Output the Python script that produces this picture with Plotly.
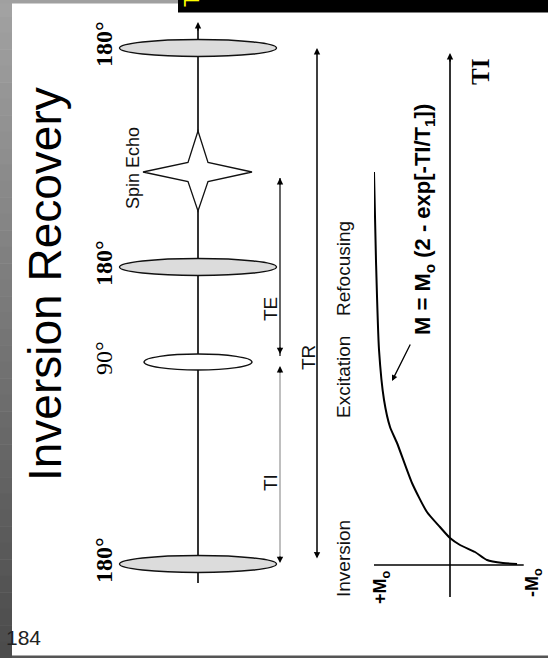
import plotly.graph_objects as go

# ---------------- data ----------------
# time axis (arbitrary units, t=0 at the inversion pulse, time runs upward in the picture)
pulse_times = [0, 202, 297, 516]            # 180° inversion, 90° excitation, 180° refocusing, next 180°
pulse_labels = ["<b>180°</b>", "90°", "<b>180°</b>", "<b>180°</b>"]
pulse_kinds = ["180", "90", "180", "180"]
echo_time = 392
TI_start, TI_end = 0, 202
TE_start, TE_end = 202, 392
TR_start, TR_end = 0, 516

# recovery curve: M (in units of Mo) versus time
curve_t = [0, 1, 4, 12, 19, 26, 37, 52, 81, 121, 137, 164, 214, 304, 392]
curve_m = [-0.882, -0.697, -0.487, -0.329, -0.132, 0.0, 0.132, 0.303, 0.5,
           0.697, 0.789, 0.868, 0.934, 0.974, 1.0]

event_labels = ["Inversion", "Excitation", "Refocusing"]
event_label_times = [5, 187, 295]
interval_labels = ["TI", "TE", "TR"]

# ---------------- layout constants ----------------
W, H = 548, 658
T0 = 564              # pixel row of t = 0
SEQ_X = 198           # pulse-sequence axis column
SANS = "Liberation Sans, Arial, sans-serif"
SERIF = "Liberation Serif, Times New Roman, serif"
AH = dict(arrowhead=2, arrowsize=0.85, arrowwidth=1.5, arrowcolor="black")

fig = go.Figure()

fig.add_trace(go.Scatter(
    x=curve_m, y=curve_t, xaxis="x2", yaxis="y2", mode="lines",
    line=dict(color="black", width=2, shape="spline", smoothing=0.6),
    hoverinfo="skip", showlegend=False))

shapes = []
ann = []

# ---- slide background decorations ----
N = 40
for i in range(N):
    g = int(0xa2 + (0x4c - 0xa2) * i / (N - 1))
    col = f"rgb({g},{g},{g})"
    shapes.append(dict(type="rect", xref="x", yref="y", x0=0, x1=12,
                       y0=i * H / N, y1=(i + 1) * H / N + 0.5,
                       fillcolor=col, line=dict(width=0), layer="below"))
shapes.append(dict(type="rect", xref="x", yref="y", x0=0, x1=178, y0=0, y1=3.5,
                   fillcolor="#a0a0a0", line=dict(width=0), layer="below"))
shapes.append(dict(type="rect", xref="x", yref="y", x0=178, x1=W, y0=0, y1=12.5,
                   fillcolor="black", line=dict(width=0), layer="below"))
shapes.append(dict(type="rect", xref="x", yref="y", x0=12, x1=W, y0=655.5, y1=H,
                   fillcolor="#555555", line=dict(width=0), layer="below"))
ann.append(dict(xref="x", yref="y", x=191, y=1, text="T", textangle=-90,
                showarrow=False, font=dict(family=SANS, size=22, color="#ffff00"),
                xanchor="center", yanchor="middle"))

# ---- pulse sequence axis ----
shapes.append(dict(type="line", xref="x", yref="y2", x0=SEQ_X, x1=SEQ_X, y0=-19, y1=538,
                   line=dict(color="black", width=1.6)))
ann.append(dict(xref="x", yref="y2", x=SEQ_X, y=542, axref="x", ayref="y2", ax=SEQ_X, ay=532,
                text="", showarrow=True, **AH))

# pulses
for t, lab, kind in zip(pulse_times, pulse_labels, pulse_kinds):
    hw = 78.5 if kind == "180" else 54
    hh = 8.5 if kind == "180" else 8
    fill = "#dcdcdc" if kind == "180" else "white"
    shapes.append(dict(type="circle", xref="x", yref="y2",
                       x0=SEQ_X - hw, x1=SEQ_X + hw, y0=t - hh, y1=t + hh,
                       fillcolor=fill, line=dict(color="#111111", width=1.4)))
    ann.append(dict(xref="x", yref="y2", x=104, y=t + 4, text=lab, textangle=-90,
                    showarrow=False, font=dict(family=SERIF, size=24, color="black"),
                    xanchor="center", yanchor="middle"))

# spin echo star
c = echo_time
star = (f"M {SEQ_X},{c+41} L {SEQ_X+10},{c+9.5} L {SEQ_X+54},{c} L {SEQ_X+10},{c-9.5} "
        f"L {SEQ_X},{c-39} L {SEQ_X-10},{c-9.5} L {SEQ_X-55},{c} L {SEQ_X-10},{c+9.5} Z")
shapes.append(dict(type="path", xref="x", yref="y2", path=star, fillcolor="white",
                   line=dict(color="#111111", width=1.3)))
ann.append(dict(xref="x", yref="y2", x=133, y=echo_time + 4, text="Spin Echo", textangle=-90,
                showarrow=False, font=dict(family=SANS, size=18, color="#111"),
                xanchor="center", yanchor="middle"))

# ---- interval arrows ----
TE_X, TR_X = 280, 317
shapes.append(dict(type="line", xref="x", yref="y2", x0=TE_X, x1=TE_X, y0=TE_start + 6, y1=TE_end - 6,
                   line=dict(color="#555555", width=1.8)))
shapes.append(dict(type="line", xref="x", yref="y2", x0=TE_X, x1=TE_X, y0=TI_start + 3, y1=TI_end - 6,
                   line=dict(color="#b8b8b8", width=1.8)))
for (hy, ty) in [(TE_end - 6, TE_end - 14), (TE_start + 8, TE_start + 16),
                 (TI_end - 4, TI_end - 12), (TI_start + 1, TI_start + 9)]:
    ann.append(dict(xref="x", yref="y2", x=TE_X, y=hy, axref="x", ayref="y2", ax=TE_X, ay=ty,
                    text="", showarrow=True, **AH))
ann.append(dict(xref="x", yref="y2", x=TR_X, y=TR_end, axref="x", ayref="y2", ax=TR_X, ay=TR_start + 4,
                text="", showarrow=True, startarrowhead=2, arrowside="end+start",
                startarrowsize=0.85, **AH))

ann.append(dict(xref="x", yref="y2", x=270, y=(TI_start + TI_end) / 2 - 20, text=interval_labels[0],
                textangle=-90, showarrow=False, font=dict(family=SANS, size=19, color="#111"),
                xanchor="center", yanchor="middle"))
ann.append(dict(xref="x", yref="y2", x=270, y=(TE_start + TE_end) / 2 - 42, text=interval_labels[1],
                textangle=-90, showarrow=False, font=dict(family=SANS, size=19, color="#111"),
                xanchor="center", yanchor="middle"))
ann.append(dict(xref="x", yref="y2", x=308, y=206, text=interval_labels[2],
                textangle=-90, showarrow=False, font=dict(family=SANS, size=19, color="#111"),
                xanchor="center", yanchor="middle"))

for lab, t in zip(event_labels, event_label_times):
    ann.append(dict(xref="x", yref="y2", x=343, y=t, text=lab, textangle=-90, showarrow=False,
                    font=dict(family=SANS, size=19, color="#111"),
                    xanchor="center", yanchor="middle"))

# ---- magnetisation plot axes ----
shapes.append(dict(type="line", xref="x2", yref="y2", x0=0, x1=0, y0=-33, y1=507,
                   line=dict(color="black", width=1.6)))
ann.append(dict(xref="x2", yref="y2", x=0, y=511, axref="x2", ayref="y2", ax=0, ay=501,
                text="", showarrow=True, **AH))
shapes.append(dict(type="line", xref="x2", yref="y2", x0=1.05, x1=-0.97, y0=-1, y1=-1,
                   line=dict(color="black", width=1.6)))
ann.append(dict(xref="x", yref="y", x=381, y=587, text="<b>+M<sub>o</sub></b>", textangle=-90,
                showarrow=False, font=dict(family=SANS, size=18, color="black"),
                xanchor="center", yanchor="middle"))
ann.append(dict(xref="x", yref="y", x=533, y=583, text="<b>-M<sub>o</sub></b>", textangle=-90,
                showarrow=False, font=dict(family=SANS, size=18, color="black"),
                xanchor="center", yanchor="middle"))
ann.append(dict(xref="x", yref="y", x=480, y=72, text="<b>TI</b>", textangle=-90,
                showarrow=False, font=dict(family=SERIF, size=25, color="black"),
                xanchor="center", yanchor="middle"))

# equation + pointer
ann.append(dict(xref="x", yref="y", x=424, y=220,
                text="<b>M = M<sub>o</sub> (2 - exp[-TI/T<sub>1</sub>])</b>", textangle=-90,
                showarrow=False, font=dict(family=SANS, size=22, color="black"),
                xanchor="center", yanchor="middle"))
ann.append(dict(xref="x", yref="y", x=392, y=381, axref="x", ayref="y", ax=411, ay=343,
                text="", showarrow=True, arrowhead=2, arrowsize=0.9, arrowwidth=1.3,
                arrowcolor="black"))

# title and page number
ann.append(dict(xref="x", yref="y", x=45, y=284, text="Inversion Recovery", textangle=-90,
                showarrow=False, font=dict(family=SANS, size=46, color="black"),
                xanchor="center", yanchor="middle"))
ann.append(dict(xref="x", yref="y", x=23, y=637, text="184", showarrow=False,
                font=dict(family=SANS, size=21, color="#222"),
                xanchor="center", yanchor="middle"))

fig.update_layout(
    width=W, height=H, margin=dict(l=0, r=0, t=0, b=0),
    paper_bgcolor="white", plot_bgcolor="rgba(0,0,0,0)",
    showlegend=False, shapes=shapes, annotations=ann,
    xaxis=dict(range=[0, W], domain=[0, 1], visible=False, fixedrange=True),
    yaxis=dict(range=[H, 0], domain=[0, 1], visible=False, fixedrange=True),
    xaxis2=dict(range=[1, -1], domain=[374 / W, 526 / W], anchor="y2", visible=False, fixedrange=True),
    yaxis2=dict(range=[T0 - H, T0], domain=[0, 1], anchor="x2", visible=False, fixedrange=True),
)

fig.write_html("out.html")
